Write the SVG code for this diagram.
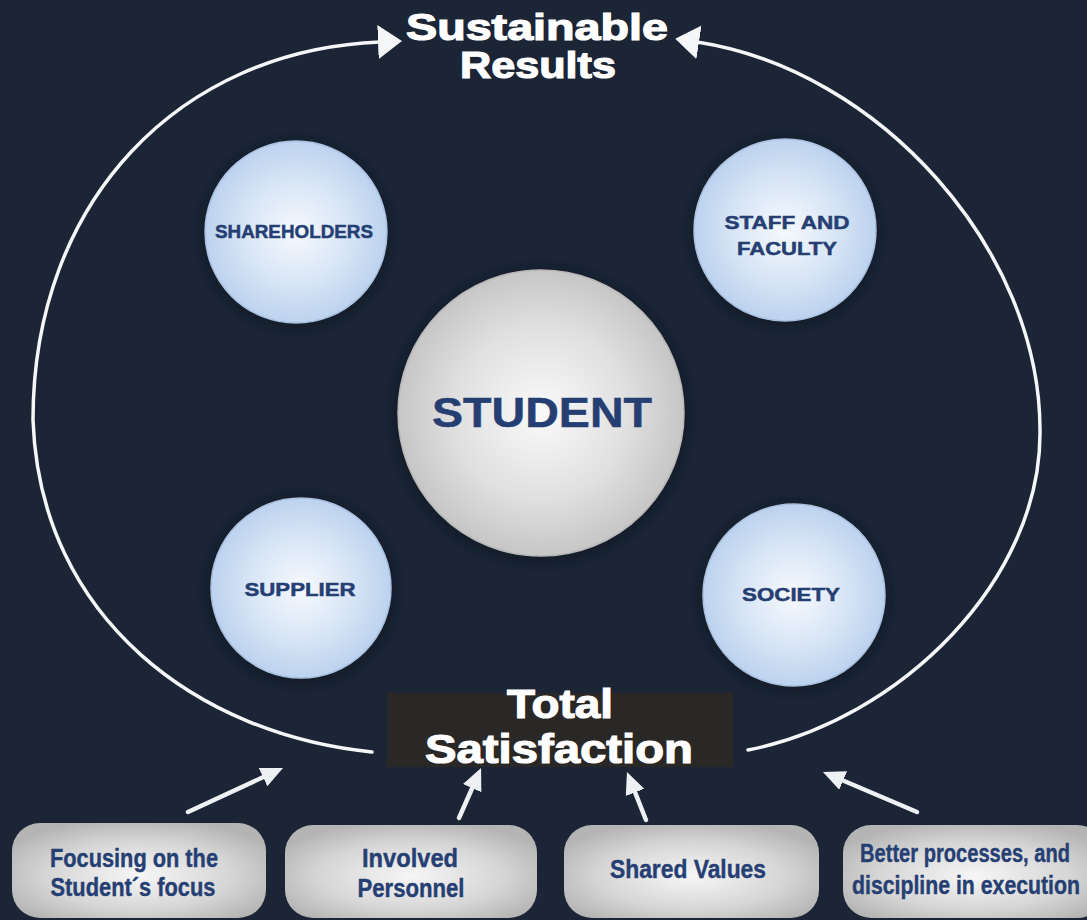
<svg xmlns="http://www.w3.org/2000/svg" width="1087" height="920" viewBox="0 0 1087 920">
<defs>
<style>
.bg{fill:#1b2536}
.arc{fill:none;stroke:#f4f6f8;stroke-width:3.5;stroke-linecap:round}
.sarrow{fill:none;stroke:#eef1f4;stroke-width:4.5;stroke-linecap:round}
.title{font-family:"Liberation Sans",Arial,sans-serif;font-weight:bold;fill:#ffffff;stroke:#ffffff;stroke-width:1.2;text-anchor:middle}
.clabel{font-family:"Liberation Sans",Arial,sans-serif;font-weight:bold;fill:#263f73;stroke:#263f73;stroke-width:0.5;text-anchor:middle}
.blabel{font-family:"Liberation Sans Narrow","Liberation Sans",Arial,sans-serif;font-weight:bold;fill:#263f73;stroke:#263f73;stroke-width:0.4;text-anchor:middle;font-size:25px}
.blue{fill:url(#gBlue);stroke:#a9c0de;stroke-width:1.5}
.box{fill:url(#gBox)}
</style>
<radialGradient id="gBlue" cx="0.5" cy="0.5" r="0.5">
<stop offset="0" stop-color="#f6f9fe"/>
<stop offset="0.55" stop-color="#d9e6f6"/>
<stop offset="1" stop-color="#bcd2ee"/>
</radialGradient>
<radialGradient id="gGray" cx="0.5" cy="0.5" r="0.5">
<stop offset="0" stop-color="#fafafa"/>
<stop offset="0.6" stop-color="#e0e0e0"/>
<stop offset="1" stop-color="#c6c6c6"/>
</radialGradient>
<radialGradient id="gBox" cx="0.5" cy="0.55" r="0.6">
<stop offset="0" stop-color="#f6f6f6"/>
<stop offset="0.6" stop-color="#d6d6d6"/>
<stop offset="1" stop-color="#b4b4b4"/>
</radialGradient>
<filter id="shadow" x="-20%" y="-20%" width="140%" height="140%">
<feGaussianBlur stdDeviation="4"/>
</filter>
<marker id="bigHead" viewBox="0 0 24 34" refX="2" refY="17" markerWidth="24" markerHeight="34" markerUnits="userSpaceOnUse" orient="auto">
<path d="M0,0 L24,17 L0,34 Z" fill="#f4f6f8"/>
</marker>
<marker id="smallHead" viewBox="0 0 22 20" refX="4" refY="10" markerWidth="22" markerHeight="20" markerUnits="userSpaceOnUse" orient="auto">
<path d="M0,0 L22,10 L0,20 Z" fill="#eef1f4"/>
</marker>
</defs>
<rect class="bg" x="0" y="0" width="1087" height="920"/>

<g id="connectors">
<path class="arc" d="M372,752 C200,735 40,620 33,420 C33,200 180,50 380,42" marker-end="url(#bigHead)"/>
<path class="arc" d="M748,750 C900,720 1042,580 1040,430 C1040,250 880,70 697,42" marker-end="url(#bigHead)"/>
<line class="sarrow" x1="188" y1="812" x2="266.7" y2="775.5" marker-end="url(#smallHead)"/>
<line class="sarrow" x1="459" y1="818" x2="473.8" y2="784.5" marker-end="url(#smallHead)"/>
<line class="sarrow" x1="646" y1="820" x2="633.6" y2="788.7" marker-end="url(#smallHead)"/>
<line class="sarrow" x1="917" y1="812" x2="839.5" y2="779.0" marker-end="url(#smallHead)"/>
</g>

<g id="title">
<text class="title" x="537" y="40" font-size="37" textLength="262" lengthAdjust="spacingAndGlyphs">Sustainable</text>
<text class="title" x="538" y="78" font-size="37" textLength="156" lengthAdjust="spacingAndGlyphs">Results</text>
</g>

<g id="shareholders">
<circle cx="296" cy="234" r="95" fill="#0e1520" opacity="0.6" filter="url(#shadow)"/>
<circle class="blue" cx="296" cy="232" r="91"/>
<text class="clabel" x="294" y="238" font-size="19" textLength="158" lengthAdjust="spacingAndGlyphs">SHAREHOLDERS</text>
</g>

<g id="staff">
<circle cx="785" cy="232" r="95" fill="#0e1520" opacity="0.6" filter="url(#shadow)"/>
<circle class="blue" cx="785" cy="230" r="91"/>
<text class="clabel" x="787" y="229" font-size="19" textLength="125" lengthAdjust="spacingAndGlyphs">STAFF AND</text>
<text class="clabel" x="787" y="255" font-size="19" textLength="100" lengthAdjust="spacingAndGlyphs">FACULTY</text>
</g>

<g id="student">
<circle cx="541" cy="415" r="148" fill="#0e1520" opacity="0.6" filter="url(#shadow)"/>
<circle cx="541" cy="413" r="143" fill="url(#gGray)" stroke="#b8b8b8" stroke-width="1.5"/>
<text class="clabel" x="542" y="427" font-size="42" stroke-width="1" textLength="220" lengthAdjust="spacingAndGlyphs">STUDENT</text>
</g>

<g id="supplier">
<circle cx="301" cy="590" r="95" fill="#0e1520" opacity="0.6" filter="url(#shadow)"/>
<circle class="blue" cx="301" cy="588" r="90"/>
<text class="clabel" x="300" y="596" font-size="19" textLength="111" lengthAdjust="spacingAndGlyphs">SUPPLIER</text>
</g>

<g id="society">
<circle cx="794" cy="597" r="95" fill="#0e1520" opacity="0.6" filter="url(#shadow)"/>
<circle class="blue" cx="794" cy="595" r="91"/>
<text class="clabel" x="791" y="601" font-size="19" textLength="98" lengthAdjust="spacingAndGlyphs">SOCIETY</text>
</g>

<g id="total-satisfaction">
<rect x="387" y="693" width="346" height="74" fill="#2a2727"/>
<text class="title" x="560" y="718" font-size="41" textLength="106" lengthAdjust="spacingAndGlyphs">Total</text>
<text class="title" x="559" y="763" font-size="41" textLength="268" lengthAdjust="spacingAndGlyphs">Satisfaction</text>
</g>

<g id="box-focus">
<rect class="box" x="12" y="823" width="254" height="95" rx="28"/>
<text class="blabel" x="134" y="867" textLength="168" lengthAdjust="spacingAndGlyphs">Focusing on the</text>
<text class="blabel" x="133" y="896" textLength="165" lengthAdjust="spacingAndGlyphs">Student´s focus</text>
</g>

<g id="box-personnel">
<rect class="box" x="285" y="825" width="252" height="93" rx="28"/>
<text class="blabel" x="410" y="867" textLength="96" lengthAdjust="spacingAndGlyphs">Involved</text>
<text class="blabel" x="411" y="897" textLength="107" lengthAdjust="spacingAndGlyphs">Personnel</text>
</g>

<g id="box-values">
<rect class="box" x="564" y="825" width="255" height="93" rx="28"/>
<text class="blabel" x="688" y="878" textLength="156" lengthAdjust="spacingAndGlyphs">Shared Values</text>
</g>

<g id="box-processes">
<rect class="box" x="843" y="825" width="262" height="93" rx="28"/>
<text class="blabel" x="965" y="862" textLength="210" lengthAdjust="spacingAndGlyphs">Better processes, and</text>
<text class="blabel" x="966" y="894" textLength="228" lengthAdjust="spacingAndGlyphs">discipline in execution</text>
</g>
</svg>
